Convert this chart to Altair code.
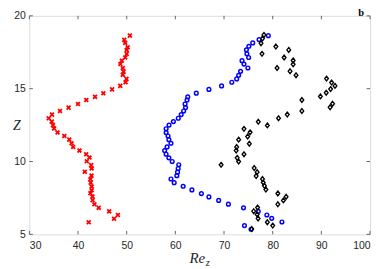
import altair as alt
import pandas as pd

# ---- data ----
red_z = [18.64, 18.35, 18.14, 17.84, 17.66, 17.39, 17.14, 16.92, 16.69, 16.42, 16.17, 15.95,
         15.67, 15.44, 15.19, 14.95, 14.69, 14.44, 14.22, 13.95, 13.70, 13.47, 13.22, 12.97,
         12.74, 12.50, 12.27, 11.99, 11.75, 11.50, 11.25, 11.00, 10.75, 10.50, 10.27, 10.02,
         9.75, 9.52, 9.30, 9.03, 8.78, 8.55, 8.28, 8.03, 7.82, 7.60, 7.35, 7.07, 6.82, 6.58,
         6.33, 6.07, 5.83]
red_re = [50.65, 49.5, 49.7, 50.2, 50.0, 50.0, 49.7, 49.0, 48.7, 49.2, 49.35, 49.2,
          49.96, 49.76, 48.67, 47.0, 45.2, 43.5, 41.7, 40.0, 38.06, 36.3, 34.65, 33.98,
          34.6, 34.86, 35.07, 35.8, 37.18, 38.2, 38.67, 39.0, 40.3, 41.67, 42.35, 41.8,
          42.7, 42.8, 41.4, 42.76, 42.55, 42.6, 42.8, 42.8, 42.55, 42.96, 43.0, 43.37, 44.25, 46.4,
          48.2, 47.4, 42.2]

blue_z = [18.64, 18.37, 18.14, 17.91, 17.67, 17.39, 17.14, 16.92, 16.69, 16.42, 16.19, 15.92,
          15.67, 15.44, 15.19, 14.95, 14.69, 14.44, 14.22, 13.95, 13.70, 13.47, 13.22, 12.97,
          12.74, 12.50, 12.25, 11.99, 11.75, 11.50, 11.25, 11.00, 10.75, 10.50, 10.25, 10.00,
          9.78, 9.52, 9.27, 9.03, 8.80, 8.55, 8.30, 8.05, 7.80, 7.57, 7.33, 7.07, 6.82, 6.58,
          6.33, 6.10, 5.85, 5.60, 5.35]
blue_re = [79.1, 77.2, 75.9, 75.1, 74.6, 74.7, 75.06, 73.7, 74.1, 74.9, 73.4, 73.0,
           72.6, 71.6, 69.5, 66.9, 64.3, 62.55, 62.4, 62.0, 62.1, 61.7, 61.2, 60.6,
           59.6, 58.7, 58.1, 58.1, 58.5, 58.67, 59.1, 58.3, 57.8, 58.1, 58.67, 59.35,
           60.7, 60.57, 60.45, 60.3, 59.1, 59.76, 61.6, 63.4, 65.35, 66.9, 68.9, 70.9, 74.0, 77.04,
           78.8, 79.8, 81.9, 74.2, 75.55]

black_z = [18.69, 18.45, 18.12, 17.89, 17.66, 17.39, 17.14, 16.94, 16.67, 16.42, 16.19, 15.92,
           15.69, 15.42, 15.19, 14.97, 14.72, 14.47, 14.22, 13.97, 13.72, 13.47, 13.22, 12.97,
           12.73, 12.48, 12.24, 12.00, 11.72, 11.50, 11.22, 10.99, 10.75, 10.50, 10.25, 10.00,
           9.77, 9.55, 9.27, 9.00, 8.80, 8.56, 8.33, 8.07, 7.81, 7.58, 7.33, 7.06, 6.84, 6.59,
           6.37, 6.09, 5.83, 5.60, 5.36]
black_re = [78.2, 77.9, 77.6, 80.65, 83.3, 77.8, 82.35, 84.2, 84.2, 80.9, 83.57, 84.8,
            91.06, 92.1, 92.8, 91.9, 91.0, 89.8, 86.0, 92.3, 91.8, 86.0, 83.0, 81.2,
            77.04, 78.9, 74.1, 75.35, 74.86, 73.0, 75.2, 72.6, 72.5, 74.1, 72.7, 73.0,
            69.4, 76.2, 76.8, 76.6, 77.9, 78.06, 78.3, 78.6, 81.06, 82.76, 82.2, 81.06, 76.9, 76.1,
            76.8, 77.0, 78.9, 80.0, 75.7]

x_ticks = [30, 40, 50, 60, 70, 80, 90, 100]
y_ticks = [5, 10, 15, 20]

W, H = 343, 220
AX = "#404040"
TXT = "#262626"

red = pd.DataFrame({"re": red_re, "z": red_z})
blue = pd.DataFrame({"re": blue_re, "z": blue_z})
black = pd.DataFrame({"re": black_re, "z": black_z})
xt = pd.DataFrame({"t": x_ticks})
yt = pd.DataFrame({"t": y_ticks})

xs = alt.Scale(domain=[30, 100], nice=False, zero=False)
ys = alt.Scale(domain=[5, 20], nice=False, zero=False)

xaxis = alt.Axis(values=x_ticks, title=None, domain=False, ticks=False, tickSize=0, grid=False,
                 labelPadding=6, labelFont="Liberation Sans", labelFontSize=10.5, labelColor=TXT)
yaxis = alt.Axis(values=y_ticks, title="Z", domain=False, ticks=False, tickSize=0, grid=False,
                 labelPadding=4, labelFont="Liberation Sans", labelFontSize=10.5, labelColor=TXT,
                 titleFont="Liberation Serif", titleFontStyle="italic", titleFontWeight="normal",
                 titleFontSize=14, titleColor=TXT, titleAngle=0, titleX=-13, titleY=110,
                 titleAlign="center", titleBaseline="middle")

XPATH = "M-1,-1L1,1M-1,1L1,-1"
DPATH = "M0,-1L0.78,0L0,1L-0.78,0Z"

pr = alt.Chart(red).mark_point(shape=XPATH, filled=False, stroke="#ff0000", strokeWidth=1.8, size=15, opacity=1).encode(
    x=alt.X("re:Q", scale=xs, axis=xaxis), y=alt.Y("z:Q", scale=ys, axis=yaxis))
pb = alt.Chart(blue).mark_point(shape="circle", filled=False, stroke="#0000ff", strokeWidth=1.45, size=14, opacity=1).encode(
    x=alt.X("re:Q", scale=xs), y=alt.Y("z:Q", scale=ys))
pk = alt.Chart(black).mark_point(shape=DPATH, filled=False, stroke="#000000", strokeWidth=1.35, size=23, opacity=1).encode(
    x=alt.X("re:Q", scale=xs), y=alt.Y("z:Q", scale=ys))

tb = alt.Chart(xt).mark_rule(color=AX, strokeWidth=0.8).encode(x=alt.X("t:Q", scale=xs), y=alt.value(H), y2=alt.value(H - 3.5))
tt = alt.Chart(xt).mark_rule(color=AX, strokeWidth=0.8).encode(x=alt.X("t:Q", scale=xs), y=alt.value(0), y2=alt.value(3.5))
tl = alt.Chart(yt).mark_rule(color=AX, strokeWidth=0.8).encode(y=alt.Y("t:Q", scale=ys), x=alt.value(0), x2=alt.value(3.5))
tr = alt.Chart(yt).mark_rule(color=AX, strokeWidth=0.8).encode(y=alt.Y("t:Q", scale=ys), x=alt.value(W), x2=alt.value(W - 3.5))

re_t = alt.Chart(pd.DataFrame({"s": ["Re"]})).mark_text(
    font="Liberation Serif", fontStyle="italic", fontSize=15, color=TXT, align="right", baseline="alphabetic"
).encode(text="s:N", x=alt.value(177), y=alt.value(249))
z_t = alt.Chart(pd.DataFrame({"s": ["z"]})).mark_text(
    font="Liberation Serif", fontStyle="italic", fontSize=10.5, color=TXT, align="left", baseline="alphabetic"
).encode(text="s:N", x=alt.value(177.5), y=alt.value(252))
b_t = alt.Chart(pd.DataFrame({"s": ["b"]})).mark_text(
    font="Liberation Serif", fontWeight="bold", fontSize=10.5, color="#000000", align="center", baseline="alphabetic"
).encode(text="s:N", x=alt.value(334), y=alt.value(0.5))

chart = alt.layer(tb, tt, tl, tr, pr, pb, pk, re_t, z_t, b_t).properties(
    width=W, height=H,
    autosize=alt.AutoSizeParams(type="none"),
    padding={"left": 21.5, "top": 7, "right": 4, "bottom": 32},
).configure_view(stroke=AX, strokeWidth=1).configure(background="white")

chart.save("out.html", embed_options={"renderer": "svg", "actions": False})
